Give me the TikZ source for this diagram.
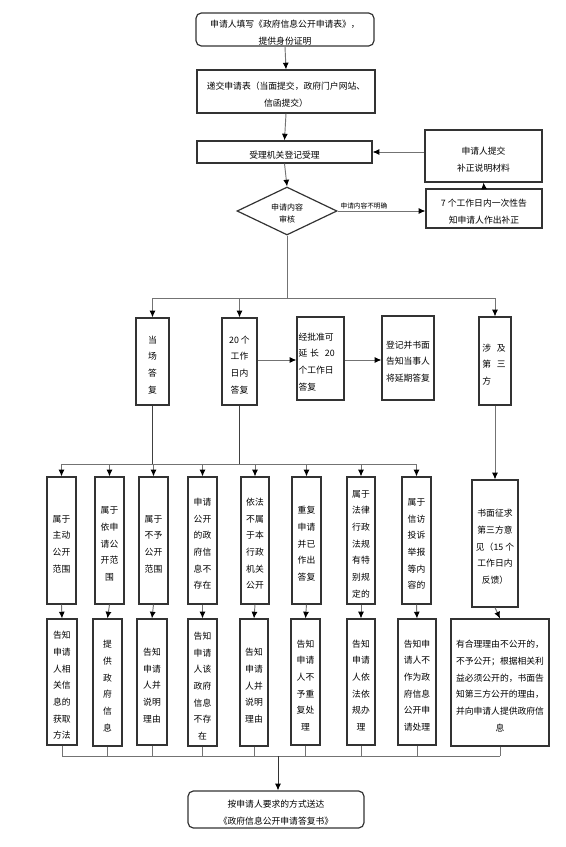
\documentclass[tikz,border=0pt]{standalone}
\usepackage{fontspec}
\setmainfont{Noto Sans CJK SC}
\usetikzlibrary{arrows.meta,shapes.geometric,fit,calc}
\newcommand{\mybox}[4][]{%
  \node[box,#1,fit={#3}] (#2) {};
  \node[txt,#1] (#2t) at ([yshift=-2.6pt]#2.center) {#4};}
\begin{document}
\begin{tikzpicture}[x=0.75pt,y=-0.75pt,
  box/.style={draw=black!80,line width=0.9pt,inner sep=0pt},
  txt/.style={draw=none,inner sep=0pt,align=center,font=\fontsize{6.6}{12.5}\selectfont},
  rnd/.style={rounded corners=4pt},
  conn/.style={draw=black!55,line width=0.7pt},
  arr/.style={conn,-{Latex[length=5pt,width=4.5pt,color=black]}},
  lbl/.style={font=\fontsize{5}{6}\selectfont,inner sep=1pt}]
\useasboundingbox (0,0) rectangle (565,847);
% top
\mybox[rnd]{n1}{(196,13)(374,46)}{申请人填写《政府信息公开申请表》，\\提供身份证明}
\mybox{n2}{(197,70)(375,113)}{递交申请表（当面提交，政府门户网站、\\信函提交）}
\mybox{n3}{(197,141)(372,163)}{受理机关登记受理}
\mybox{r1}{(425,130)(542,182)}{申请人提交\\补正说明材料}
\node[box,diamond,minimum width=75pt,minimum height=36pt] (d) at (287,211) {};
\node[txt,font=\fontsize{6}{9}\selectfont] (dt) at ([yshift=-2pt]d.center) {申请内容\\审核};
\mybox{r2}{(426,189)(542,228)}{7 个工作日内一次性告\\知申请人作出补正}
\draw[arr] (n1.south) -- (n2.north);
\draw[arr] (n2.south) -- (n3.north);
\draw[arr] (n3.south) -- (d.north);
\draw[arr] (n3.east -| r1.west) -- (n3.east);
\draw[arr] (d.east) -- node[lbl,above,pos=0.3]{申请内容不明确} (d.east -| r2.west);
\draw[arr] (r2.north) -- (r1.south);
% row 2
\mybox{a1}{(136,318)(169,405)}{当\\场\\答\\复}
\mybox{a2}{(222,318)(257,405)}{20 个\\工作\\日内\\答复}
\mybox[text width=33pt,align=left]{a3}{(297,317)(344,400)}{经批准可\\延 长\ \ 20\\个工作日\\答复}
\mybox{a4}{(382,316)(434,400)}{登记并书面\\告知当事人\\将延期答复}
\mybox[text width=19pt,align=left]{a5}{(479,317)(511,405)}{涉\ \ 及\\第\ \ 三\\方}
\coordinate (b1) at (287,298);
\draw[conn] (d.south) -- (b1);
\draw[conn] (a1.north |- b1) -- (a5.north |- b1);
\draw[arr] (a1.north |- b1) -- (a1.north);
\draw[arr] (a2.north |- b1) -- (a2.north);
\draw[arr] (a5.north |- b1) -- (a5.north);
\draw[arr] (a2.east |- 0,360) -- (a3.west |- 0,360);
\draw[arr] (a3.east |- 0,360) -- (a4.west |- 0,360);
% row 3
\mybox{c1}{(47,477)(76,604)}{属于\\主动\\公开\\范围}
\mybox{c2}{(95,477)(124,604)}{属于\\依申\\请公\\开范\\围}
\mybox{c3}{(139,477)(168,604)}{属于\\不予\\公开\\范围}
\mybox{c4}{(188,477)(217,604)}{申请\\公开\\的政\\府信\\息不\\存在}
\mybox{c5}{(241,477)(269,604)}{依法\\不属\\于本\\行政\\机关\\公开}
\mybox{c6}{(292,477)(321,604)}{重复\\申请\\并已\\作出\\答复}
\mybox{c7}{(347,477)(375,604)}{属于\\法律\\行政\\法规\\有特\\别规\\定的}
\mybox{c8}{(402,477)(431,604)}{属于\\信访\\投诉\\举报\\等内\\容的}
\mybox{c9}{(472,480)(518,607)}{书面征求\\第三方意\\见（15 个\\工作日内\\反馈）}
\coordinate (b2) at (153,464);
\draw[conn,draw=black!75] (a1.south) -- (a1.south |- b2);
\draw[conn,draw=black!75] (a2.south) -- (a2.south |- b2);
\draw[conn] (c1.north |- b2) -- (c8.north |- b2);
\foreach \c in {c1,c2,c3,c4,c5,c6,c7,c8}{\draw[arr] (\c.north |- b2) -- (\c.north);}
\draw[arr] (a5.south) -- (c9.north);
% row 4
\mybox{e1}{(47,619)(77,745)}{告知\\申请\\人相\\关信\\息的\\获取\\方法}
\mybox{e2}{(93,619)(122,746)}{提\\供\\政\\府\\信\\息}
\mybox{e3}{(137,619)(167,745)}{告知\\申请\\人并\\说明\\理由}
\mybox{e4}{(188,619)(217,746)}{告知\\申请\\人该\\政府\\信息\\不存\\在}
\mybox{e5}{(240,619)(268,746)}{告知\\申请\\人并\\说明\\理由}
\mybox{e6}{(291,619)(320,745)}{告知\\申请\\人不\\予重\\复处\\理}
\mybox{e7}{(347,619)(375,745)}{告知\\申请\\人依\\法依\\规办\\理}
\mybox{e8}{(398,619)(436,745)}{告知申\\请人不\\作为政\\府信息\\公开申\\请处理}
\mybox{e9}{(451,619)(549,746)}{有合理理由不公开的，\\不予公开；根据相关利\\益必须公开的，书面告\\知第三方公开的理由，\\并向申请人提供政府信\\息}
\foreach \i in {1,...,9}{\draw[arr] (c\i.south) -- (e\i.north);}
% bottom
\coordinate (b3) at (278,756);
\foreach \i in {1,...,9}{\draw[conn] (e\i.south) -- (e\i.south |- b3);}
\draw[conn] (e1.south |- b3) -- (e9.south |- b3);
\mybox[rnd]{f}{(188,791)(364,828)}{按申请人要求的方式送达\\《政府信息公开申请答复书》}
\draw[arr,draw=black!80] (b3) -- (b3 |- f.north);
\end{tikzpicture}
\end{document}
